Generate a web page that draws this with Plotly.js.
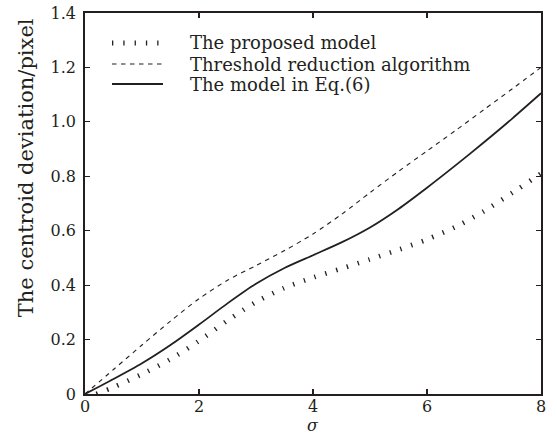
<!DOCTYPE html>
<html>
<head>
<meta charset="utf-8">
<script src="https://cdn.plot.ly/plotly-3.0.1.min.js"></script>
<style>html,body{margin:0;padding:0;background:#fff;}#chart{width:557px;height:436px;}</style>
</head>
<body>
<div id="chart"></div>
<script>
// ---- data ----
var seriesNames = ["The proposed model", "Threshold reduction algorithm", "The model in Eq.(6)"];

var sigmaProposed = [0.2, 0.5, 1, 1.5, 2, 2.5, 3, 3.5, 4, 4.5, 5, 5.5, 6, 6.5, 7, 7.5, 8];
var proposed      = [0, 0.025, 0.073, 0.128, 0.195, 0.27, 0.338, 0.39, 0.428, 0.461, 0.495, 0.53, 0.568, 0.614, 0.672, 0.74, 0.81];

var sigma     = [0, 0.5, 1, 1.5, 2, 2.5, 3, 3.5, 4, 4.5, 5, 5.5, 6, 6.5, 7, 7.5, 8];
var threshold = [0, 0.09, 0.18, 0.268, 0.35, 0.418, 0.472, 0.527, 0.588, 0.66, 0.74, 0.818, 0.893, 0.968, 1.045, 1.122, 1.20];
var eq6       = [0, 0.055, 0.113, 0.18, 0.255, 0.333, 0.405, 0.463, 0.51, 0.557, 0.612, 0.68, 0.758, 0.84, 0.925, 1.013, 1.105];

var xTickVals = [0, 2, 4, 6, 8];
var xTickText = ["0", "2", "4", "6", "8"];
var yTickVals = [0, 0.2, 0.4, 0.6, 0.8, 1.0, 1.2, 1.4];
var yTickText = ["0", "0.2", "0.4", "0.6", "0.8", "1.0", "1.2", "1.4"];

var xTitle = "<i>σ</i>";
var yTitle = "The centroid deviation/pixel";

// ---- chart ----
var ink = "#231f20";
var serif = "DejaVu Serif, Liberation Serif, serif";

var styles = [
  {color: ink, width: 4.8, dash: "1.3px,10px"},
  {color: ink, width: 1.1, dash: "4.5px,4.5px"},
  {color: ink, width: 1.8}
];

var traces = [
  {x: sigmaProposed, y: proposed, name: seriesNames[0], mode: "lines",
   line: Object.assign({shape: "spline", smoothing: 0.8}, styles[0])},
  {x: sigma, y: threshold, name: seriesNames[1], mode: "lines",
   line: Object.assign({shape: "spline", smoothing: 0.8}, styles[1])},
  {x: sigma, y: eq6, name: seriesNames[2], mode: "lines",
   line: Object.assign({shape: "spline", smoothing: 0.8}, styles[2])}
];

// hand-placed legend (sample lines + labels), positions in paper fractions
var legendRowsY = [0.9213, 0.8661, 0.8136];
var legendX0 = 0.0592, legendX1 = 0.171, legendTextX = 0.2259;
var shapes = [], annotations = [];
seriesNames.forEach(function (nm, i) {
  shapes.push({type: "line", xref: "paper", yref: "paper",
               x0: legendX0, x1: legendX1, y0: legendRowsY[i], y1: legendRowsY[i],
               line: styles[i]});
  annotations.push({text: nm, xref: "paper", yref: "paper", x: legendTextX, y: legendRowsY[i],
                    xanchor: "left", yanchor: "middle", showarrow: false,
                    font: {family: serif, size: 18, color: ink}});
});
annotations.push({
  text: yTitle, textangle: -90, xref: "paper", yref: "paper",
  x: -0.129, y: 0.593, xanchor: "center", yanchor: "middle", showarrow: false,
  font: {family: serif, size: 21, color: ink}
});
annotations.push({
  text: xTitle, xref: "paper", yref: "paper",
  x: 0.5, y: -0.1102, xanchor: "center", yanchor: "bottom", showarrow: false,
  borderpad: 0,
  font: {family: serif, size: 16, color: ink}
});

var axisCommon = {
  showline: true, linecolor: ink, linewidth: 1.8, mirror: "ticks",
  ticks: "inside", ticklen: 5, tickwidth: 1.2, tickcolor: ink,
  showgrid: false, zeroline: false, tickmode: "array",
  tickfont: {family: serif, size: 16, color: ink}
};

var layout = {
  width: 557, height: 436,
  margin: {l: 85, r: 16, t: 13, b: 42},
  paper_bgcolor: "#fff", plot_bgcolor: "#fff",
  font: {family: serif, color: ink},
  showlegend: false,
  xaxis: Object.assign({}, axisCommon, {
    range: [0, 8], tickvals: xTickVals, ticktext: xTickText, ticklabelstandoff: -3
  }),
  yaxis: Object.assign({}, axisCommon, {
    range: [0, 1.4], tickvals: yTickVals, ticktext: yTickText, ticklabelstandoff: 4
  }),
  shapes: shapes,
  annotations: annotations
};

Plotly.newPlot("chart", traces, layout, {displayModeBar: false, staticPlot: true});
</script>
</body>
</html>
